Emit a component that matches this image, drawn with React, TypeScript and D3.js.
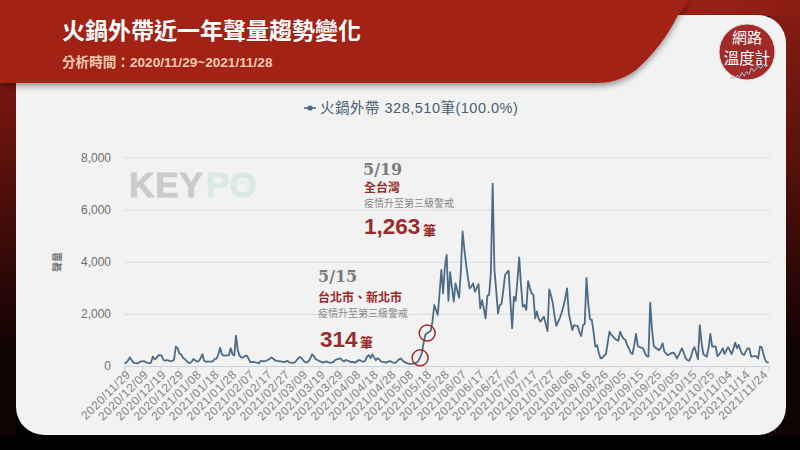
import React, { useEffect, useRef } from 'react';
import * as d3 from 'd3';

const seriesName = '火鍋外帶 328,510筆(100.0%)';
const startDate = '2020/11/29';
const yTicks = [0, 2000, 4000, 6000, 8000];
const tickLabels = [
  '2020/11/29', '2020/12/09', '2020/12/19', '2020/12/29', '2021/01/08', '2021/01/18', '2021/01/28',
  '2021/02/07', '2021/02/17', '2021/02/27', '2021/03/09', '2021/03/19', '2021/03/29', '2021/04/08',
  '2021/04/18', '2021/04/28', '2021/05/08', '2021/05/18', '2021/05/28', '2021/06/07', '2021/06/17',
  '2021/06/27', '2021/07/07', '2021/07/17', '2021/07/27', '2021/08/06', '2021/08/16', '2021/08/26',
  '2021/09/05', '2021/09/15', '2021/09/25', '2021/10/05', '2021/10/15', '2021/10/25', '2021/11/04',
  '2021/11/14', '2021/11/24',
];

// daily volume, one row per 10 days
const volume = [
  100, 130, 210, 330, 230, 140, 110, 100, 120, 170,
  180, 190, 150, 120, 110, 130, 360, 260, 300, 400,
  420, 400, 230, 210, 230, 210, 190, 200, 240, 740,
  690, 470, 450, 320, 270, 200, 130, 110, 170, 270,
  210, 170, 190, 300, 450, 200, 170, 170, 170, 170,
  190, 270, 280, 440, 700, 450, 400, 400, 410, 420,
  680, 450, 400, 1165, 600, 400, 320, 330, 380, 400,
  300, 150, 150, 160, 140, 130, 100, 200, 180, 190,
  200, 230, 280, 330, 280, 220, 200, 190, 180, 170,
  150, 170, 200, 140, 130, 120, 130, 200, 280, 350,
  300, 220, 150, 130, 180, 300, 450, 380, 260, 230,
  190, 170, 130, 150, 180, 140, 130, 130, 150, 230,
  250, 270, 290, 220, 170, 230, 210, 180, 150, 160,
  130, 160, 220, 220, 180, 170, 200, 360, 420, 300,
  450, 330, 220, 300, 250, 170, 160, 150, 130, 170,
  190, 150, 130, 120, 180, 250, 290, 220, 160, 130,
  100, 80, 80, 90, 110, 130, 200, 314, 500, 900,
  1200, 1263, 1300, 1350, 1700, 2340, 2150, 1960, 2800, 3690,
  2790, 3800, 4260, 2500, 3600, 3000, 2470, 3170, 2900, 2620,
  3600, 5160, 4500, 3900, 3400, 2980, 3050, 3170, 2850, 3000,
  3140, 2210, 2530, 2200, 1830, 2690, 2730, 3600, 7000, 3690,
  2900, 2020, 2340, 2380, 2900, 3490, 3580, 3660, 2500, 1450,
  2660, 2500, 3300, 4170, 3100, 2280, 2340, 2150, 3260, 3000,
  2790, 2730, 1830, 2090, 1800, 1700, 1800, 1890, 1600, 1340,
  2940, 2700, 2400, 1900, 1540, 1700, 1850, 2050, 2280, 2600,
  2980, 2020, 1700, 1380, 1570, 1550, 1540, 1300, 1150, 1570,
  1610, 3370, 2400, 1790, 1770, 1300, 740, 800, 500, 290,
  320, 400, 460, 900, 1320, 1200, 1130, 1050, 1000, 970,
  1320, 1150, 1050, 1000, 800, 680, 500, 460, 800, 1230,
  770, 720, 700, 680, 500, 380, 360, 2430, 1400, 770,
  700, 650, 610, 700, 870, 550, 480, 420, 450, 500,
  510, 450, 290, 400, 550, 680, 500, 300, 230, 200,
  350, 600, 720, 500, 260, 1570, 900, 460, 400, 360,
  700, 1230, 740, 750, 740, 380, 450, 550, 680, 460,
  600, 720, 600, 460, 650, 900, 680, 810, 600, 460,
  420, 550, 680, 680, 360, 370, 380, 380, 290, 740,
  720, 450, 230, 140, 130,
];

// 5/15 and 5/19, as day index into volume
const markedDays = [167, 171];

// the little line in the logo
const logoLine = [2, 3, 2, 5, 3, 8, 4, 9, 6, 13, 9, 12, 15, 12, 17, 14, 16];

const cjk = '"Noto Sans CJK TC", sans-serif';
const latin = '"Liberation Sans", "Noto Sans CJK TC", sans-serif';
const serif = '"DejaVu Serif", serif';
const darkRed = '#9c2a2a';

const App: React.FC = () => {
  const chartRef = useRef<SVGGElement>(null);

  useEffect(() => {
    if (!chartRef.current) return;
    const g = d3.select(chartRef.current);
    g.selectAll('*').remove();

    const parse = d3.timeParse('%Y/%m/%d');
    const start = parse(startDate) as Date;
    const dates = volume.map((_, i) => d3.timeDay.offset(start, i));

    const x = d3
      .scaleTime()
      .domain([dates[0], dates[dates.length - 1]])
      .range([124.5, 768.8]);
    const y = d3.scaleLinear().domain([0, 8000]).range([366, 157.5]);

    // Grid + y labels
    const yAxis = g
      .append('g')
      .attr('transform', 'translate(124,0)')
      .call(
        d3
          .axisLeft(y)
          .tickValues(yTicks)
          .tickSize(-646)
          .tickPadding(13)
          .tickFormat((d) => d3.format(',')(d as number))
      );
    yAxis.select('.domain').remove();
    yAxis.selectAll('line').attr('stroke', '#dcdcdc').attr('stroke-width', 1);
    yAxis
      .selectAll('text')
      .style('font-family', latin)
      .style('font-size', '12px')
      .style('fill', '#6f6f6f');

    // X axis
    const xAxis = g
      .append('g')
      .attr('transform', 'translate(0,366)')
      .call(
        d3
          .axisBottom(x)
          .tickValues(tickLabels.map((d) => parse(d) as Date))
          .tickSize(5)
          .tickPadding(4)
          .tickFormat((d) => d3.timeFormat('%Y/%m/%d')(d as Date))
      );
    xAxis.select('.domain').attr('stroke', '#c9d3dc');
    xAxis.selectAll('line').attr('stroke', '#c9d3dc');
    xAxis
      .selectAll('text')
      .attr('transform', 'rotate(-45)')
      .attr('dx', '-2px')
      .attr('dy', '2px')
      .style('text-anchor', 'end')
      .style('font-family', latin)
      .style('font-size', '12px')
      .style('letter-spacing', '0.5px')
      .style('fill', '#858585');

    // Line
    const line = d3
      .line<number>()
      .x((_, i) => x(dates[i]))
      .y((d) => y(d));
    g.append('path')
      .datum(volume)
      .attr('fill', 'none')
      .attr('stroke', '#4d6b86')
      .attr('stroke-width', 1.8)
      .attr('stroke-linejoin', 'round')
      .attr('d', line);

    // Circles on 5/15 and 5/19
    g.selectAll('.mark')
      .data(markedDays)
      .enter()
      .append('circle')
      .attr('class', 'mark')
      .attr('cx', (d) => x(dates[d]))
      .attr('cy', (d) => y(volume[d]))
      .attr('r', 8)
      .attr('fill', 'none')
      .attr('stroke', '#a32a2a')
      .attr('stroke-width', 1.5);

    // Logo sparkline
    const lx = d3.scaleLinear().domain([0, logoLine.length - 1]).range([730, 768]);
    const ly = d3.scaleLinear().domain([0, 17]).range([80, 64]);
    g.append('path')
      .datum(logoLine)
      .attr('fill', 'none')
      .attr('stroke', '#9cc3e0')
      .attr('stroke-width', 1)
      .attr(
        'd',
        d3
          .line<number>()
          .x((_, i) => lx(i))
          .y((d) => ly(d))
      );
  }, []);

  return (
    <svg
      width={800}
      height={450}
      viewBox="0 0 800 450"
      style={{ position: 'fixed', left: 0, top: 0, display: 'block' }}
    >
      <defs>
        <linearGradient id="edgeLeft" x1="0" y1="0" x2="0" y2="1">
          <stop offset="0.2" stopColor="#7a1610" />
          <stop offset="0.8" stopColor="#100303" />
        </linearGradient>
        <linearGradient id="edgeRight" x1="0" y1="0" x2="0" y2="1">
          <stop offset="0" stopColor="#8a1d14" />
          <stop offset="0.35" stopColor="#5a120c" />
          <stop offset="0.8" stopColor="#100303" />
        </linearGradient>
        <linearGradient id="edgeTop" x1="0" y1="0" x2="1" y2="0">
          <stop offset="0.8" stopColor="#a32117" />
          <stop offset="1" stopColor="#8a1d14" />
        </linearGradient>
        <filter id="headShadow" x="-5%" y="-5%" width="110%" height="125%">
          <feDropShadow dx="0" dy="3" stdDeviation="3" floodColor="#000" floodOpacity="0.4" />
        </filter>
      </defs>

      {/* frame */}
      <rect width={800} height={450} fill="#000" />
      <rect width={16} height={436} fill="url(#edgeLeft)" />
      <rect x={770} width={30} height={436} fill="url(#edgeRight)" />
      <rect width={800} height={16} fill="url(#edgeTop)" />
      <rect x={16} y={15} width={770} height={420} rx={28} fill="#f2f2f2" />
      <path
        d="M0 0H690L678 15C668 36 652 56 636 70C622 80 610 83 596 83H0Z"
        fill="#a32117"
        filter="url(#headShadow)"
      />

      {/* header */}
      <text x={62} y={39} fill="#fff" fontFamily={cjk} fontWeight={700} fontSize={23}>
        火鍋外帶近一年聲量趨勢變化
      </text>
      <text x={62} y={67} fill="#f6c9ae" fontFamily={latin} fontWeight={700} fontSize={13.6}>
        分析時間：2020/11/29~2021/11/28
      </text>

      {/* logo */}
      <circle cx={747} cy={52} r={28} fill="#a32a2a" stroke="#e9d9d6" strokeWidth={1} />
      <text x={747} y={43} textAnchor="middle" fill="#fff" fontFamily={cjk} fontSize={15}>
        網路
      </text>
      <text x={747} y={64} textAnchor="middle" fill="#fff" fontFamily={cjk} fontSize={15.5}>
        溫度計
      </text>

      {/* legend */}
      <path d="M304 108H316" stroke="#4d6b86" strokeWidth={1.6} />
      <circle cx={310} cy={108} r={2.6} fill="#4d6b86" />
      <text x={320} y={113} fill="#4b5e72" fontFamily={latin} fontSize={14.5} letterSpacing={0.5}>
        {seriesName}
      </text>

      {/* watermark */}
      <text x={129} y={197} fill="#cbcbcb" stroke="#cbcbcb" strokeWidth={0.8} fontFamily={latin} fontWeight={700} fontSize={35} letterSpacing={1}>
        KEY
      </text>
      <text x={206} y={197} fill="#d9e9e3" stroke="#d9e9e3" strokeWidth={0.8} fontFamily={latin} fontWeight={700} fontSize={35}>
        PO
      </text>
      <path d="M236 187L240 181L242 184L244 181L248 187" fill="none" stroke="#d9e9e3" strokeWidth={1} />

      <text x={58} y={262} transform="rotate(-90 58 262)" textAnchor="middle" dominantBaseline="middle" fill="#777" fontFamily={cjk} fontWeight={700} fontSize={10}>
        聲量
      </text>

      <g ref={chartRef} />

      {/* 5/19 note */}
      <text x={363} y={174.5} fill="#7b7b7b" fontFamily={serif} fontWeight={700} fontSize={16}>5/19</text>
      <text x={364} y={192} fill={darkRed} fontFamily={cjk} fontWeight={700} fontSize={12}>全台灣</text>
      <text x={364} y={206.5} fill="#888" fontFamily={cjk} fontSize={10}>疫情升至第三級警戒</text>
      <text x={364} y={234} fill={darkRed} fontFamily={latin} fontWeight={700} fontSize={22.5}>1,263</text>
      <text x={423} y={235} fill={darkRed} fontFamily={cjk} fontWeight={700} fontSize={13}>筆</text>

      {/* 5/15 note */}
      <text x={318} y={282} fill="#7b7b7b" fontFamily={serif} fontWeight={700} fontSize={16}>5/15</text>
      <text x={318} y={302} fill={darkRed} fontFamily={cjk} fontWeight={700} fontSize={12}>台北市、新北市</text>
      <text x={318} y={316.5} fill="#888" fontFamily={cjk} fontSize={10}>疫情升至第三級警戒</text>
      <text x={320} y={347} fill={darkRed} fontFamily={latin} fontWeight={700} fontSize={22.5}>314</text>
      <text x={360} y={347} fill={darkRed} fontFamily={cjk} fontWeight={700} fontSize={13}>筆</text>
    </svg>
  );
};

export default App;
